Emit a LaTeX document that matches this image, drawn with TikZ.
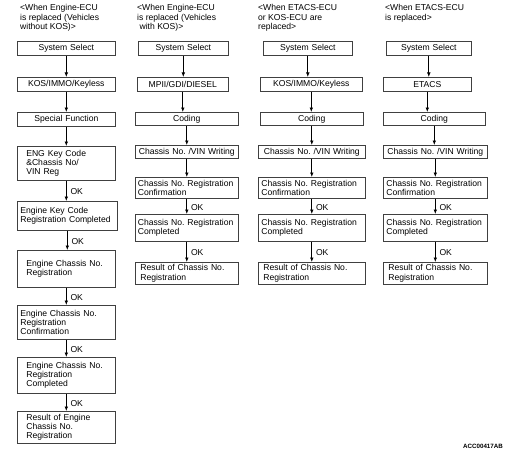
\documentclass[tikz,border=0pt]{standalone}
\usepackage{fontspec}
\setmainfont{Liberation Sans}
\usetikzlibrary{arrows.meta,calc}
\newcommand{\fs}{\fontsize{8.6}{9.2}\selectfont\frenchspacing\hyphenpenalty=10000\exhyphenpenalty=10000}
\tikzset{
  box/.style={draw=black!75, line width=0.6pt, anchor=north west, inner ysep=0pt, font=\fs, align=left},
  cbox/.style={box, align=center},
  flow/.style={-{Latex[length=4.5pt,width=3.6pt]}, line width=0.7pt},
  oklab/.style={font=\fs, anchor=west, inner sep=0pt},
  ttl/.style={font=\fs, anchor=north west, align=left, inner sep=0pt},
}
% name, style, left, top, width, height, pad, text
\newcommand{\bx}[8]{%
  \pgfmathsetmacro\bxtw{#5-2*#7}%
  \node[#2, minimum width=#5pt, minimum height=#6pt, inner xsep=#7pt, text width=\bxtw pt] (#1) at (#3,#4) {#8};}
\newcommand{\flowarrow}[2]{\draw[flow] (#1.south) -- (#1.south |- #2.north);}
\newcommand{\okarrow}[3]{%
  \draw[flow] (#1.south) -- (#1.south |- #2.north);
  \node[oklab] (#3) at ($(#1.south)!0.5!(#1.south |- #2.north)+(4,1)$) {OK};}
\begin{document}
\begin{tikzpicture}[x=1pt,y=-1pt]
\useasboundingbox (0,0) rectangle (506,452);
% ---------- column 1
\node[ttl] (t1) at (20,4.5) {<When Engine-ECU\\is replaced (Vehicles\\without KOS)>};
\bx{a1}{cbox}{17}{41}{98}{14}{2}{System Select}
\bx{a2}{cbox}{17}{77}{98}{14}{2}{KOS/IMMO/Keyless}
\bx{a3}{cbox}{17}{112}{98}{14}{2}{Special Function}
\bx{a4}{box}{17}{146}{98}{34}{9}{ENG Key Code\\\&Chassis No/\\VIN Reg}
\bx{a5}{box}{17}{201}{100}{29}{3}{Engine Key Code\\Registration Completed}
\bx{a6}{box}{17}{250}{98}{37}{9}{Engine Chassis No.\\Registration}
\bx{a7}{box}{17}{305}{98}{34}{3}{Engine Chassis No.\\Registration\\Confirmation}
\bx{a8}{box}{17}{357}{98}{36}{9}{Engine Chassis No.\\Registration\\Completed}
\bx{a9}{box}{17}{411}{98}{32}{9}{Result of Engine\\Chassis No.\\Registration}
\flowarrow{a1}{a2}
\flowarrow{a2}{a3}
\flowarrow{a3}{a4}
\okarrow{a4}{a5}{k1}
\okarrow{a5}{a6}{k2}
\okarrow{a6}{a7}{k3}
\okarrow{a7}{a8}{k4}
\okarrow{a8}{a9}{k5}
% ---------- column 2
\node[ttl] (t2) at (137,4.5) {<When Engine-ECU\\is replaced (Vehicles\\\ with KOS)>};
\bx{b1}{cbox}{138}{41}{90}{14}{2}{System Select}
\bx{b2}{cbox}{137}{77}{91}{14}{2}{MPII/GDI/DIESEL}
\bx{b3}{cbox}{135}{112}{103}{13}{2}{Coding}
\bx{b4}{cbox}{135}{145}{103}{13}{2}{Chassis No. /VIN Writing}
\bx{b5}{box}{135}{177}{103}{21}{2.5}{Chassis No. Registration\\Confirmation}
\bx{b6}{box}{135}{214}{103}{27}{2.5}{Chassis No. Registration\\Completed}
\bx{b7}{box}{135}{262}{103}{22}{5}{Result of Chassis No.\\Registration}
\flowarrow{b1}{b2}
\flowarrow{b2}{b3}
\flowarrow{b3}{b4}
\flowarrow{b4}{b5}
\okarrow{b5}{b6}{m1}
\okarrow{b6}{b7}{m2}
% ---------- column 3
\node[ttl] (t3) at (258,4.5) {<When ETACS-ECU\\or KOS-ECU are\\replaced>};
\bx{c1}{cbox}{263}{41}{89}{14}{2}{System Select}
\bx{c2}{cbox}{260}{77}{102}{14}{2}{KOS/IMMO/Keyless}
\bx{c3}{cbox}{260}{112}{103}{13}{2}{Coding}
\bx{c4}{cbox}{258}{145}{107}{13}{2}{Chassis No. /VIN Writing}
\bx{c5}{box}{258}{177}{107}{21}{3}{Chassis No. Registration\\Confirmation}
\bx{c6}{box}{258}{214}{107}{27}{3}{Chassis No. Registration\\Completed}
\bx{c7}{box}{258}{262}{107}{22}{5}{Result of Chassis No.\\Registration}
\flowarrow{c1}{c2}
\flowarrow{c2}{c3}
\flowarrow{c3}{c4}
\flowarrow{c4}{c5}
\okarrow{c5}{c6}{n1}
\okarrow{c6}{c7}{n2}
% ---------- column 4
\node[ttl] (t4) at (385,4.5) {<When ETACS-ECU\\is replaced>};
\bx{d1}{cbox}{386}{41}{85}{14}{2}{System Select}
\bx{d2}{cbox}{383}{77}{88}{14}{2}{ETACS}
\bx{d3}{cbox}{383}{112}{102}{13}{2}{Coding}
\bx{d4}{cbox}{383}{145}{104}{13}{2}{Chassis No. /VIN Writing}
\bx{d5}{box}{383}{177}{104}{21}{3}{Chassis No. Registration\\Confirmation}
\bx{d6}{box}{383}{214}{104}{27}{3}{Chassis No. Registration\\Completed}
\bx{d7}{box}{383}{262}{104}{22}{5}{Result of Chassis No.\\Registration}
\flowarrow{d1}{d2}
\flowarrow{d2}{d3}
\flowarrow{d3}{d4}
\flowarrow{d4}{d5}
\okarrow{d5}{d6}{p1}
\okarrow{d6}{d7}{p2}
% ---------- footer
\node[font=\fontsize{6.2}{7}\selectfont\bfseries, anchor=east, inner sep=0pt] (ref) at (503,446) {ACC00417AB};
\end{tikzpicture}
\end{document}
